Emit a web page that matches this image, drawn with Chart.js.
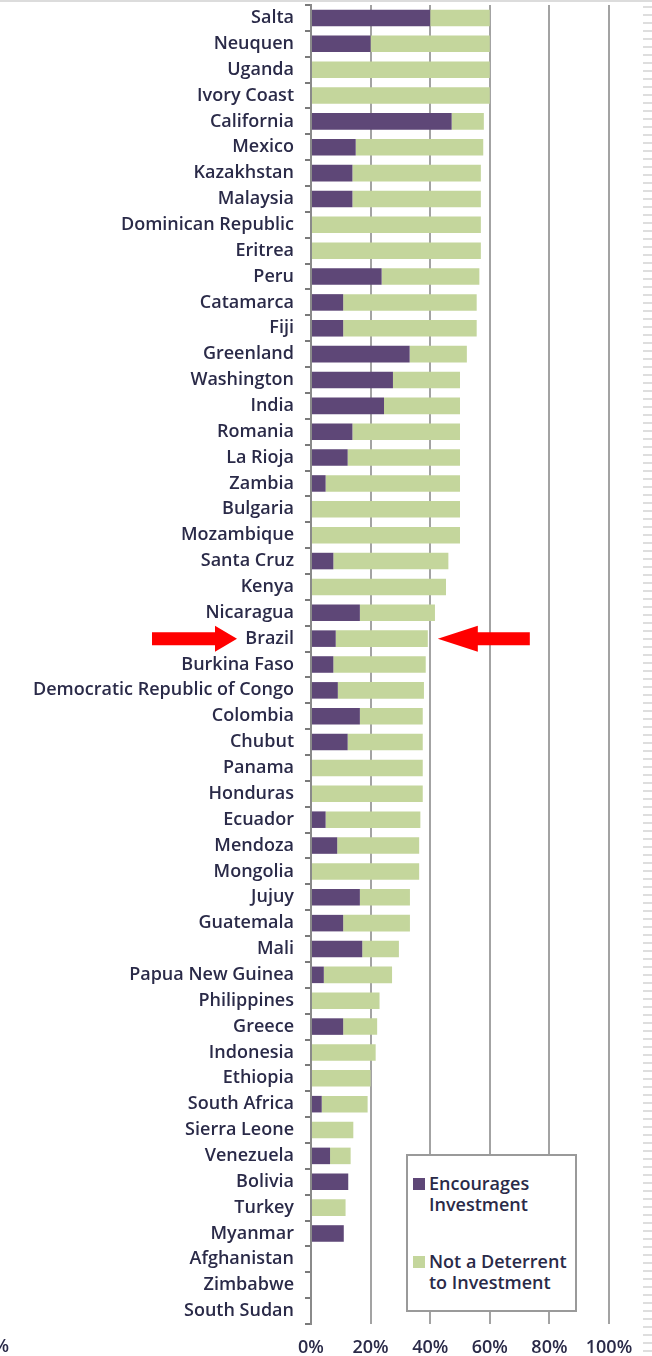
<!DOCTYPE html>
<html>
<head>
<meta charset="utf-8">
<script src="https://cdn.jsdelivr.net/npm/chart.js@4.4.1/dist/chart.umd.min.js"></script>
<style>
    html, body { margin: 0; padding: 0; background: #fff; }
    #wrap { position: relative; width: 652px; height: 1356px; overflow: hidden; }
    #topLine { position: absolute; left: 0; top: 0; width: 652px; height: 2px; background: #dcdcdc; }
    #ruler {
        position: absolute; left: 643px; top: 0; width: 9px; height: 1356px;
        background: repeating-linear-gradient(to bottom, transparent 0 6px, #dedede 6px 8px);
    }
    #legend {
        position: absolute; left: 406px; top: 1154px; width: 171px; height: 158px;
        box-sizing: border-box; border: 2px solid #9a9a9a; background: #fff;
        font-family: "Open Sans", sans-serif; font-weight: 600; font-size: 18px;
        color: #2a2a48; line-height: 21px; white-space: nowrap;
    }
    .item { position: absolute; left: 5px; padding-left: 16px; }
    .swatch { position: absolute; left: 0; top: 5px; width: 12px; height: 12px; }
</style>
</head>
<body>
<div id="wrap">
    <canvas id="chart" width="652" height="1356"></canvas>
    <div id="topLine"></div>
    <div id="ruler"></div>
    <div id="legend"></div>
</div>
<script>
// Categorías (de arriba hacia abajo)
const categories = [
    'Salta', 'Neuquen', 'Uganda', 'Ivory Coast', 'California', 'Mexico', 'Kazakhstan',
    'Malaysia', 'Dominican Republic', 'Eritrea', 'Peru', 'Catamarca', 'Fiji', 'Greenland',
    'Washington', 'India', 'Romania', 'La Rioja', 'Zambia', 'Bulgaria', 'Mozambique',
    'Santa Cruz', 'Kenya', 'Nicaragua', 'Brazil', 'Burkina Faso',
    'Democratic Republic of Congo', 'Colombia', 'Chubut', 'Panama', 'Honduras', 'Ecuador',
    'Mendoza', 'Mongolia', 'Jujuy', 'Guatemala', 'Mali', 'Papua New Guinea', 'Philippines',
    'Greece', 'Indonesia', 'Ethiopia', 'South Africa', 'Sierra Leone', 'Venezuela',
    'Bolivia', 'Turkey', 'Myanmar', 'Afghanistan', 'Zimbabwe', 'South Sudan'
];

// Serie 1: Encourages Investment (%)
const encourages = [
    40, 20, 0, 0, 47.2, 15, 13.9,
    13.9, 0, 0, 23.7, 10.8, 10.8, 33.1,
    27.5, 24.5, 13.9, 12.3, 4.9, 0, 0,
    7.5, 0, 16.4, 8.3, 7.5,
    9, 16.4, 12.3, 0, 0, 4.9,
    8.8, 0, 16.4, 10.8, 17.2, 4.3, 0,
    10.8, 0, 0, 3.6, 0, 6.4,
    12.5, 0, 11, 0, 0, 0
];

// Serie 2: Not a Deterrent to Investment (%)
const notDeterrent = [
    20, 40, 60, 60, 10.8, 42.8, 43.1,
    43.1, 57, 57, 32.8, 44.8, 44.8, 19.2,
    22.5, 25.5, 36.1, 37.7, 45.1, 50, 50,
    38.6, 45.3, 25.2, 30.9, 31,
    28.9, 21.1, 25.2, 37.5, 37.5, 31.8,
    27.5, 36.3, 16.8, 22.4, 12.3, 22.9, 23,
    11.4, 21.7, 20, 15.4, 14.2, 6.9,
    0, 11.6, 0, 0, 0, 0
];

const xTicks = [0, 20, 40, 60, 80, 100];
const highlighted = 'Brazil';

const TEXT = '#2a2a48';
const FONT = '"Open Sans", sans-serif';
const PURPLE = '#5e4777';
const GREEN = '#c4d69c';

// Flechas rojas alrededor de la fila destacada
const arrowPlugin = {
    id: 'arrows',
    afterDraw(chart) {
        const c = chart.ctx;
        const idx = categories.indexOf(highlighted);
        const y = chart.scales.y.getPixelForValue(idx);
        const tip = chart.scales.x.getPixelForValue(encourages[idx] + notDeterrent[idx]) + 10;
        c.save();
        c.fillStyle = '#ff0000';
        // flecha izquierda (apunta a la derecha)
        c.beginPath();
        c.moveTo(152, y - 6.5); c.lineTo(215, y - 6.5); c.lineTo(215, y - 13);
        c.lineTo(237, y); c.lineTo(215, y + 13); c.lineTo(215, y + 6.5);
        c.lineTo(152, y + 6.5); c.closePath(); c.fill();
        // flecha derecha (apunta a la izquierda)
        c.beginPath();
        c.moveTo(tip, y); c.lineTo(tip + 40, y - 13); c.lineTo(tip + 40, y - 6.5);
        c.lineTo(tip + 92, y - 6.5); c.lineTo(tip + 92, y + 6.5); c.lineTo(tip + 40, y + 6.5);
        c.lineTo(tip + 40, y + 13); c.closePath(); c.fill();
        // resto de una etiqueta cortada a la izquierda
        c.font = '600 18px ' + FONT;
        c.fillStyle = TEXT;
        c.textAlign = 'right';
        c.textBaseline = 'middle';
        c.fillText('100%', 9, 1347);
        c.restore();
    }
};

const chart = new Chart(document.getElementById('chart'), {
    type: 'bar',
    data: {
        labels: categories,
        datasets: [
            { label: 'Encourages Investment', data: encourages, backgroundColor: PURPLE },
            { label: 'Not a Deterrent to Investment', data: notDeterrent, backgroundColor: GREEN }
        ]
    },
    options: {
        indexAxis: 'y',
        responsive: false,
        animation: false,
        devicePixelRatio: 1,
        layout: { padding: { top: 5, right: 43, bottom: 0, left: 0 } },
        datasets: { bar: { categoryPercentage: 1, barPercentage: 0.64 } },
        plugins: { legend: { display: false }, tooltip: { enabled: false } },
        scales: {
            x: {
                stacked: true,
                min: 0,
                max: 100,
                afterBuildTicks: scale => { scale.ticks = xTicks.map(v => ({ value: v })); },
                afterFit: scale => { scale.height = 32; },
                ticks: {
                    callback: v => v + '%',
                    color: TEXT,
                    padding: 13,
                    maxRotation: 0,
                    font: { family: FONT, size: 18, weight: '600' }
                },
                grid: {
                    color: ctx => (ctx.tick && ctx.tick.value === 0) ? 'rgba(0,0,0,0)' : '#a3a3a3',
                    lineWidth: 2,
                    drawTicks: false
                },
                border: { display: false }
            },
            y: {
                stacked: true,
                afterFit: scale => {
                    scale.width = 311;
                    scale.paddingTop = 0;
                    scale.paddingBottom = 0;
                },
                ticks: {
                    color: TEXT,
                    padding: 11,
                    autoSkip: false,
                    font: { family: FONT, size: 18, weight: '600' }
                },
                grid: {
                    drawOnChartArea: false,
                    drawTicks: true,
                    tickLength: 6,
                    color: '#7a7a7a',
                    lineWidth: 2
                },
                border: { display: true, color: '#8a8a8a', width: 2 }
            }
        }
    },
    plugins: [arrowPlugin]
});

// Leyenda HTML a partir de los datasets
const legendBox = document.getElementById('legend');
const legendLines = [['Encourages', 'Investment'], ['Not a Deterrent', 'to Investment']];
const legendTops = [17, 95];
chart.data.datasets.forEach((ds, i) => {
    const item = document.createElement('div');
    item.className = 'item';
    item.style.top = legendTops[i] + 'px';
    item.innerHTML = '<span class="swatch" style="background:' + ds.backgroundColor + '"></span>' +
        legendLines[i].join('<br>');
    legendBox.appendChild(item);
});
</script>
</body>
</html>
